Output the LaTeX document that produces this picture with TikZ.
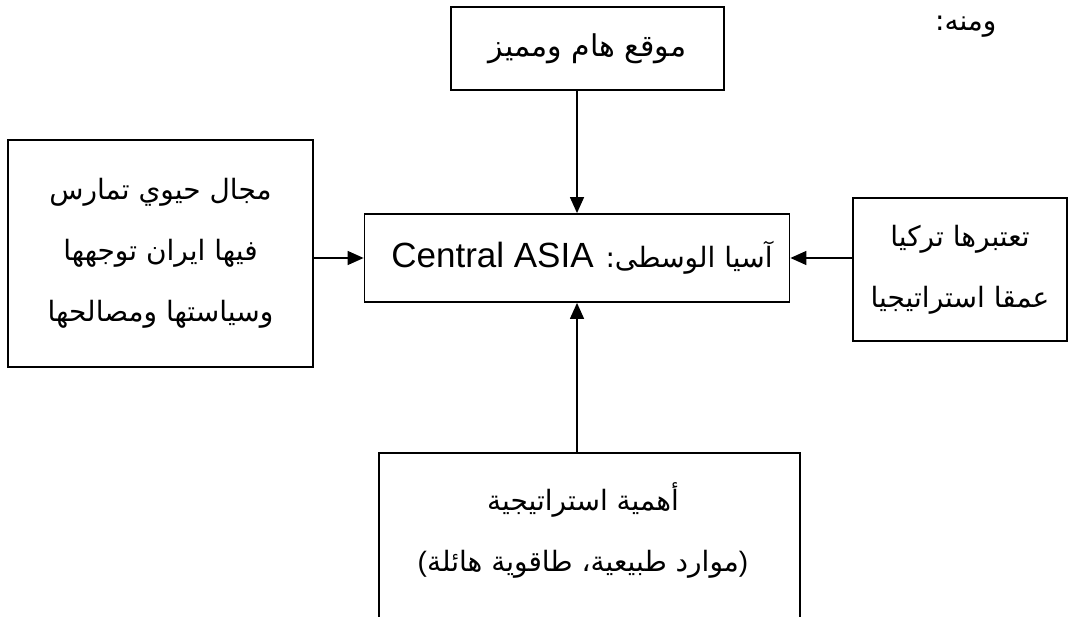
\documentclass[tikz,border=0pt]{standalone}
\usepackage{fontspec}
\setmainfont{Liberation Sans}
\newfontfamily\arabicfont[Script=Arabic]{DejaVu Sans}
\TeXXeTstate=1
\usetikzlibrary{arrows.meta}
\begin{document}
\begin{tikzpicture}[x=1pt,y=-1pt,
  box/.style={draw, line width=1.8pt, align=center, inner sep=0pt},
  arr/.style={-{Triangle[length=16pt,width=14pt]}, line width=1.4pt},
  artext/.style={font=\arabicfont\fontsize{28}{61}\selectfont}]
\clip (0,0) rectangle (1070,617);
\fill[white] (0,0) rectangle (1070,617);
% heading
\node[font=\arabicfont\fontsize{28}{40}\selectfont, anchor=east] (head) at (1000,27) {\beginR ومنه:\endR};
% boxes
\node[box, font=\arabicfont\fontsize{30}{61}\selectfont, minimum width=273pt, minimum height=83pt] (topb) at (587.5,48.5)
  {\beginR موقع هام ومميز\endR};
\node[box, minimum width=425pt, minimum height=88pt] (ctr) at (577,258)
  {\hspace*{10pt}\arabicfont\fontsize{28}{60}\selectfont\beginR آسيا الوسطى: \beginL\rmfamily\fontsize{35}{60}\selectfont Central ASIA\endL\endR};
\node[box, artext, minimum width=305pt, minimum height=227pt] (left) at (160.5,253.5)
  {\beginR مجال حيوي تمارس\endR\\\beginR فيها ايران توجهها\endR\\\beginR وسياستها ومصالحها\endR};
\node[box, artext, minimum width=214pt, minimum height=143pt] (right) at (960,269.5)
  {\beginR تعتبرها تركيا\endR\\\beginR عمقا استراتيجيا\endR};
\node[artext, align=center, minimum width=421pt, inner sep=0pt] (bot) at (583,530)
  {\beginR أهمية استراتيجية\endR\\{\rmfamily(}\beginR موارد طبيعية، طاقوية هائلة\endR{\rmfamily)}};
\coordinate (btl) at (379,453);
\coordinate (btr) at (800,453);
\draw[line width=1.8pt] (btl |- 0,700) -- (btl) -- (btr) -- (btr |- 0,700);
% connectors
\draw[arr] (topb.south -| ctr.north) -- (ctr.north);
\draw[arr] (btl -| ctr.south) -- (ctr.south);
\draw[arr] (left.east |- ctr.west) -- (ctr.west);
\draw[arr] (right.west |- ctr.east) -- (ctr.east);
\end{tikzpicture}
\end{document}
